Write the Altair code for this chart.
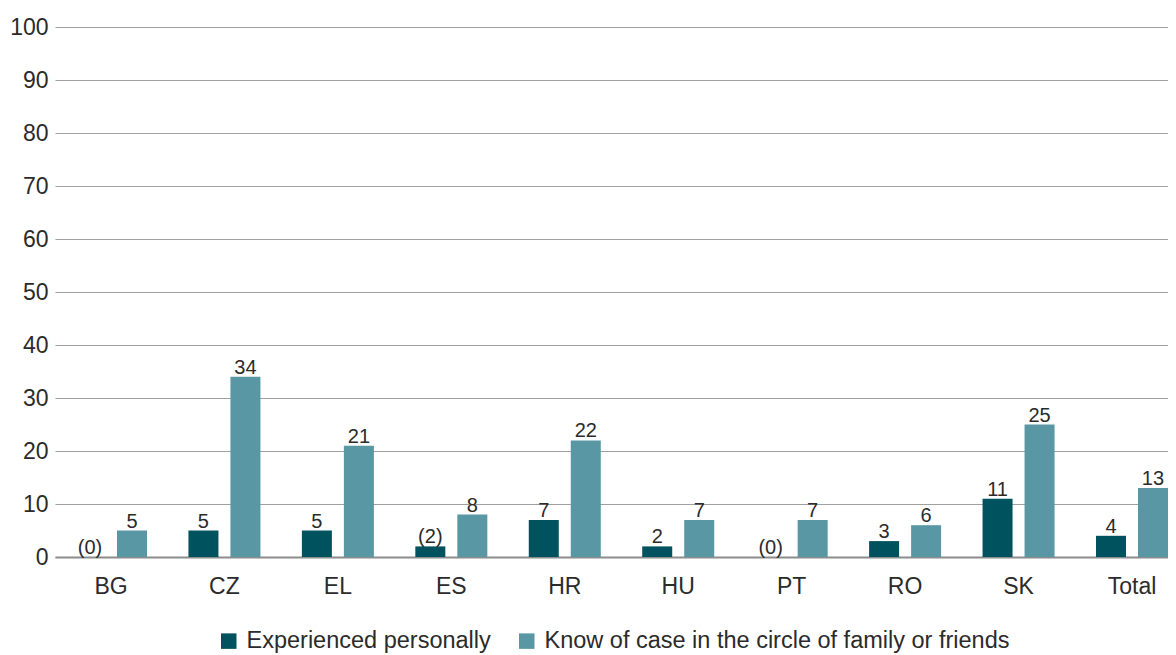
import altair as alt
import pandas as pd

countries = ["BG", "CZ", "EL", "ES", "HR", "HU", "PT", "RO", "SK", "Total"]
series_names = ["Experienced personally", "Know of case in the circle of family or friends"]
experienced = [0, 5, 5, 2, 7, 2, 0, 3, 11, 4]
experienced_labels = ["(0)", "5", "5", "(2)", "7", "2", "(0)", "3", "11", "4"]
know = [5, 34, 21, 8, 22, 7, 7, 6, 25, 13]
know_labels = ["5", "34", "21", "8", "22", "7", "7", "6", "25", "13"]
colors = ["#00525e", "#5897a3"]

rows = []
for i, c in enumerate(countries):
    rows.append({"country": c, "series": series_names[0], "value": experienced[i], "label": experienced_labels[i]})
    rows.append({"country": c, "series": series_names[1], "value": know[i], "label": know_labels[i]})
df = pd.DataFrame(rows)

FONT = "Liberation Sans, Arial, sans-serif"
TXT = "#2b2b2b"

x = alt.X("country:N", sort=countries, title=None,
          scale=alt.Scale(paddingInner=0.3653, paddingOuter=0.0881, align=1),
          axis=alt.Axis(labelAngle=0, labelFontSize=23, labelPadding=18, ticks=False,
                        domainColor="#8c8c8c", domainWidth=2, labelColor=TXT,
                        labelFont=FONT, grid=False))
xo = alt.XOffset("series:N", sort=series_names,
                 scale=alt.Scale(paddingInner=0.2857, paddingOuter=0))
y = alt.Y("value:Q", title=None,
          scale=alt.Scale(domain=[0, 100], nice=False),
          axis=alt.Axis(values=list(range(0, 101, 10)), ticks=False, domain=False,
                        labelFontSize=23, labelPadding=7, labelColor=TXT,
                        labelFont=FONT, gridColor="#a0a0a0", gridWidth=1))

color = alt.Color("series:N", sort=series_names, title=None,
                  scale=alt.Scale(domain=series_names, range=colors),
                  legend=alt.Legend(orient="none", legendX=162, legendY=602, direction="horizontal",
                                    symbolType="square", symbolSize=240, symbolStrokeWidth=0,
                                    labelFontSize=23.5, labelFont=FONT, labelColor=TXT,
                                    labelLimit=0, columnPadding=24, labelOffset=6, symbolOpacity=1))

bars = alt.Chart(df).mark_bar(opacity=1).encode(x=x, xOffset=xo, y=y, color=color)
labels = alt.Chart(df).mark_text(baseline="alphabetic", dy=-3, fontSize=20, font=FONT, color=TXT).encode(
    x=alt.X("country:N", sort=countries),
    xOffset=alt.XOffset("series:N", sort=series_names),
    y="value:Q",
    text="label:N",
)

chart = alt.layer(bars, labels).properties(
    width=1113, height=530,
    autosize=alt.AutoSizeParams(type="none"),
    padding={"left": 47, "top": 19, "right": 0, "bottom": 98},
).configure_view(stroke=None).configure_axis(labelFont=FONT)

chart.save("out.html", embed_options={"renderer": "svg", "actions": False})
